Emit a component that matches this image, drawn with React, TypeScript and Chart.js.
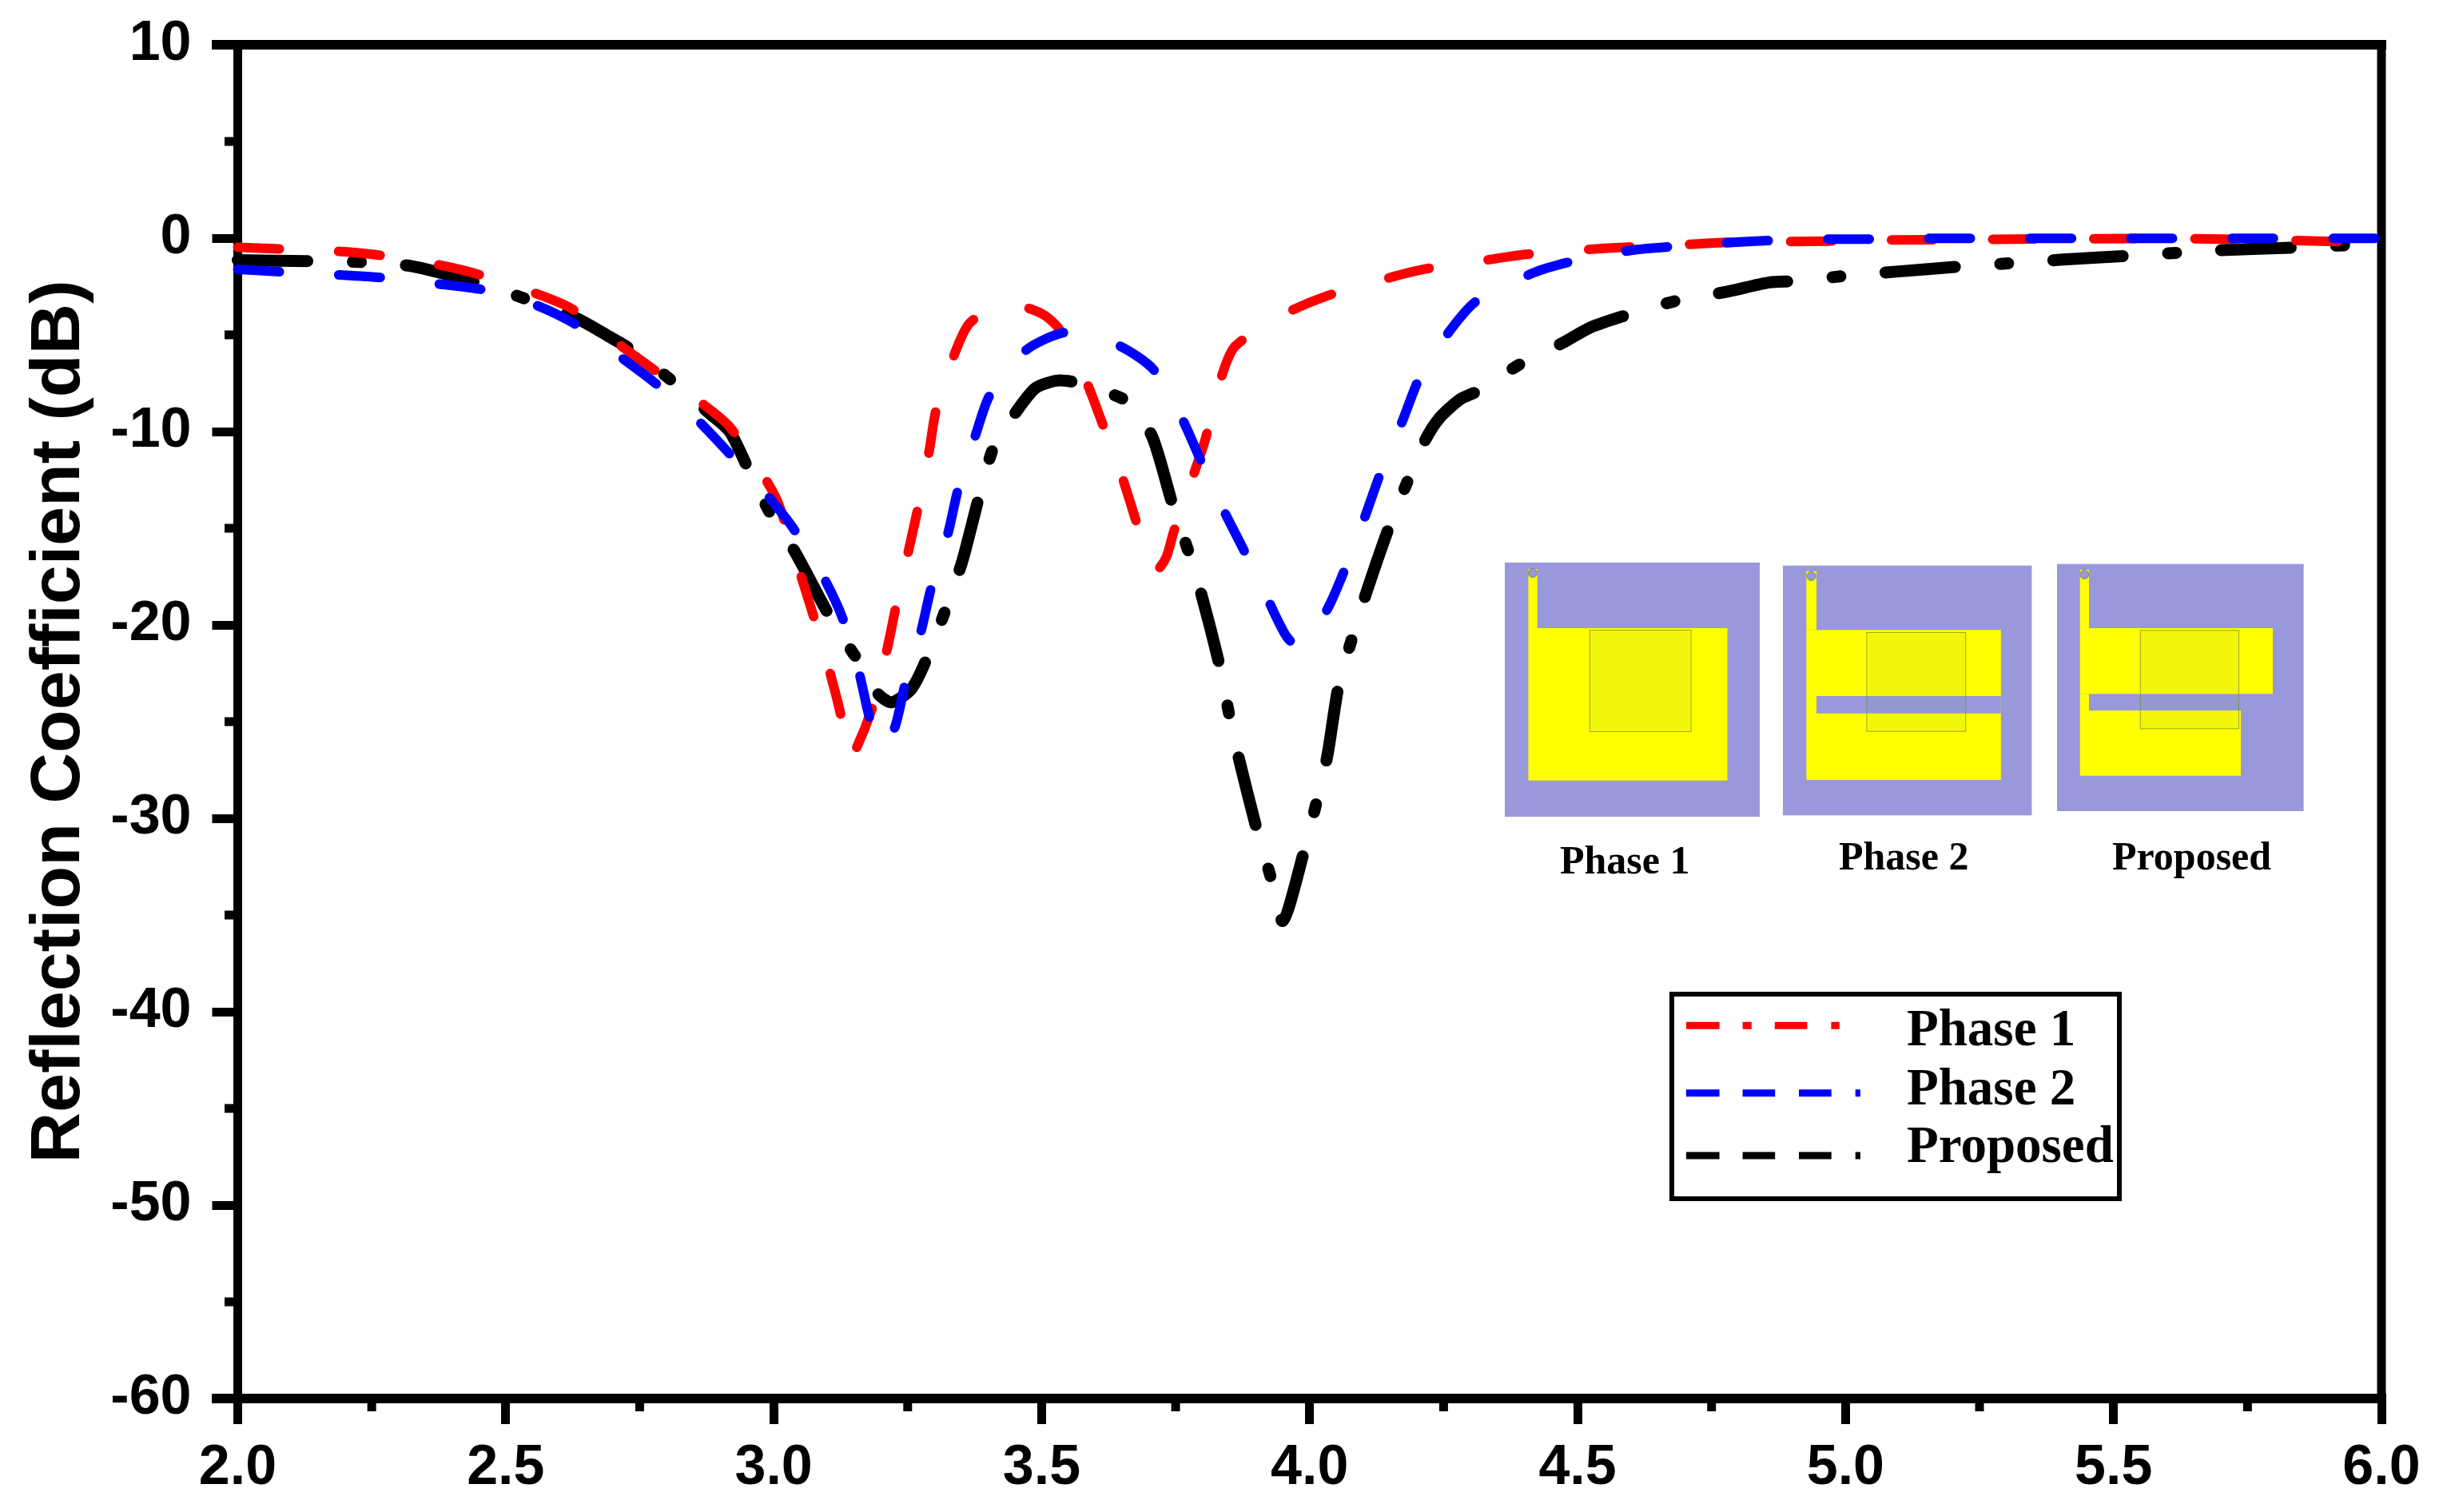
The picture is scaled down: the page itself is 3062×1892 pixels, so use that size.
import React, { useEffect, useRef } from "react";
import { Chart, registerables } from "chart.js";

Chart.register(...registerables);

const SANS = "'Liberation Sans', Arial, sans-serif";
const SERIF = "'Liberation Serif', 'Times New Roman', serif";

const xTickStep = 0.5;
const yTickStep = 10;
const minorX = [2.25, 2.75, 3.25, 3.75, 4.25, 4.75, 5.25, 5.75];
const minorY = [5, -5, -15, -25, -35, -45, -55];

const phase1X = [2.0, 2.078, 2.185, 2.266, 2.371, 2.451, 2.553, 2.622, 2.702, 2.773, 2.858, 2.917, 2.985, 3.01, 3.05, 3.075, 3.104, 3.125, 3.14, 3.155, 3.185, 3.211, 3.228, 3.251, 3.269, 3.29, 3.303, 3.335, 3.365, 3.42, 3.472, 3.506, 3.532, 3.583, 3.613, 3.65, 3.676, 3.703, 3.716, 3.733, 3.746, 3.78, 3.806, 3.833, 3.861, 3.957, 4.033, 4.139, 4.215, 4.323, 4.404, 4.512, 4.588, 4.702, 4.782, 4.889, 4.968, 5.071, 5.258, 5.448, 5.634, 5.825, 5.916, 6.0];
const phase1Y = [-0.47, -0.56, -0.68, -0.89, -1.36, -1.89, -2.83, -3.63, -5.3, -6.73, -8.38, -9.73, -12.47, -13.8, -17.38, -19.6, -22.36, -24.63, -26.9, -26.33, -24.2, -21.34, -19.07, -16.24, -13.98, -11.03, -8.88, -6.16, -4.41, -3.5, -3.6, -4.0, -4.68, -7.4, -9.56, -12.34, -14.61, -16.97, -17.15, -16.47, -15.22, -12.5, -10.35, -7.4, -5.59, -3.87, -2.98, -2.12, -1.6, -1.16, -0.84, -0.6, -0.47, -0.33, -0.22, -0.18, -0.15, -0.1, -0.06, -0.03, -0.03, -0.11, -0.18, -0.2];

const phase2X = [2.0, 2.082, 2.19, 2.272, 2.375, 2.456, 2.557, 2.626, 2.712, 2.776, 2.855, 2.911, 2.985, 3.037, 3.094, 3.13, 3.16, 3.179, 3.2, 3.226, 3.245, 3.275, 3.294, 3.325, 3.344, 3.376, 3.404, 3.472, 3.551, 3.643, 3.708, 3.761, 3.796, 3.84, 3.876, 3.923, 3.957, 3.985, 4.034, 4.067, 4.105, 4.133, 4.174, 4.204, 4.255, 4.31, 4.417, 4.493, 4.6, 4.68, 4.79, 4.873, 4.98, 5.064, 5.159, 5.254, 5.5, 5.75, 6.0];
const phase2Y = [-1.61, -1.74, -1.9, -2.05, -2.37, -2.66, -3.47, -4.39, -6.1, -7.43, -9.33, -10.95, -13.2, -15.02, -17.59, -19.75, -22.54, -24.81, -26.4, -25.3, -23.09, -20.32, -18.06, -15.29, -13.0, -10.24, -8.08, -5.77, -4.84, -5.54, -6.77, -9.28, -11.44, -14.09, -16.06, -18.74, -20.6, -21.2, -19.14, -17.04, -14.27, -12.09, -9.4, -7.29, -5.04, -3.28, -1.8, -1.18, -0.63, -0.43, -0.22, -0.11, -0.05, -0.05, -0.01, -0.01, -0.01, -0.01, -0.01];

const proposedX = [2.0, 2.143, 2.234, 2.325, 2.459, 2.532, 2.629, 2.69, 2.736, 2.8, 2.88, 2.918, 2.952, 2.993, 3.04, 3.104, 3.148, 3.16, 3.194, 3.22, 3.258, 3.29, 3.324, 3.352, 3.385, 3.412, 3.455, 3.489, 3.532, 3.583, 3.652, 3.665, 3.706, 3.744, 3.773, 3.799, 3.832, 3.849, 3.868, 3.902, 3.926, 3.95, 3.99, 4.013, 4.033, 4.054, 4.078, 4.105, 4.147, 4.181, 4.215, 4.242, 4.28, 4.312, 4.39, 4.474, 4.523, 4.596, 4.687, 4.778, 4.858, 4.905, 5.0, 5.09, 5.227, 5.311, 5.4, 5.539, 5.623, 5.71, 5.851, 5.937, 6.0];
const proposedY = [-1.14, -1.19, -1.24, -1.45, -2.4, -3.09, -4.1, -5.04, -5.8, -7.15, -9.05, -10.0, -11.9, -14.2, -16.24, -19.53, -21.45, -21.9, -23.54, -24.0, -23.27, -21.45, -18.96, -16.7, -13.18, -10.69, -8.88, -7.74, -7.36, -7.58, -8.31, -8.65, -10.24, -13.75, -16.13, -18.51, -22.1, -24.5, -26.9, -30.63, -32.9, -35.3, -31.66, -29.16, -26.78, -23.15, -20.8, -18.4, -15.03, -12.69, -10.48, -9.31, -8.35, -7.93, -6.56, -5.39, -4.63, -3.94, -3.22, -2.77, -2.29, -2.22, -1.95, -1.74, -1.44, -1.29, -1.12, -0.89, -0.75, -0.61, -0.47, -0.36, -0.3];

const toPoints = (xs: number[], ys: number[]) => xs.map((x, i) => ({ x, y: ys[i] }));

const seriesNames = ["Phase 1", "Phase 2", "Proposed"];
const insetNames = ["Phase 1", "Phase 2", "Proposed"];
const yTitle = "Reflection Coefficient (dB)";

const PLOT = { left: 297.5, right: 2980, top: 56, bottom: 1750 };
const VIOLET = "#9898da";
const YELLOW = "#ffff00";

function rect(c: CanvasRenderingContext2D, fill: string, x0: number, y0: number, x1: number, y1: number) {
  c.fillStyle = fill;
  c.fillRect(x0, y0, x1 - x0, y1 - y0);
}

function hole(c: CanvasRenderingContext2D, cx: number, cy: number) {
  c.fillStyle = VIOLET;
  c.strokeStyle = "#8a8a50";
  c.lineWidth = 1;
  c.beginPath();
  c.ellipse(cx, cy, 5.5, 5.5, 0, 0, Math.PI * 2);
  c.fill();
  c.stroke();
}

function overlay(c: CanvasRenderingContext2D, x0: number, y0: number, x1: number, y1: number) {
  c.fillStyle = "rgba(110,150,120,0.09)";
  c.fillRect(x0, y0, x1 - x0, y1 - y0);
  c.strokeStyle = "rgba(130,140,50,0.75)";
  c.lineWidth = 1;
  c.strokeRect(x0 + 0.5, y0 + 0.5, x1 - x0 - 1, y1 - y0 - 1);
}

const framePlugin = {
  id: "frame",
  beforeDatasetsDraw(chart: any) {
    const c: CanvasRenderingContext2D = chart.ctx;
    const sx = chart.scales.x;
    const sy = chart.scales.y;
    c.save();
    c.fillStyle = "#000";
    c.fillRect(265, PLOT.top - 6, 2986 - 265, 12);
    c.fillRect(265, PLOT.bottom - 6, 2986 - 265, 12);
    c.fillRect(PLOT.left - 5.5, PLOT.top, 11, PLOT.bottom - PLOT.top);
    c.fillRect(PLOT.right - 5.5, PLOT.top, 11, PLOT.bottom - PLOT.top);
    minorX.forEach((v) => c.fillRect(sx.getPixelForValue(v) - 5.5, PLOT.bottom, 11, 16));
    minorY.forEach((v) => c.fillRect(281, sy.getPixelForValue(v) - 5.5, 12, 11));
    c.restore();
  },
};

const annotationPlugin = {
  id: "annotations",
  afterDatasetsDraw(chart: any) {
    const c: CanvasRenderingContext2D = chart.ctx;
    c.save();

    // Phase 1 inset
    rect(c, VIOLET, 1883, 704, 2202, 1022);
    rect(c, YELLOW, 1912.4, 712, 1923.7, 786);
    rect(c, YELLOW, 1912.4, 786, 2161.5, 976.7);
    overlay(c, 1989, 788, 2116.6, 916);
    hole(c, 1918, 717);

    // Phase 2 inset
    rect(c, VIOLET, 2231, 707.7, 2542.4, 1020.3);
    rect(c, YELLOW, 2260.4, 715, 2273, 788.3);
    rect(c, YELLOW, 2260.4, 788.3, 2503.8, 976);
    rect(c, VIOLET, 2273, 871, 2503.8, 892.7);
    overlay(c, 2335.4, 791, 2460.3, 915.7);
    hole(c, 2266.7, 721);

    // Proposed inset
    rect(c, VIOLET, 2574, 705.7, 2882.6, 1015);
    rect(c, YELLOW, 2602.7, 713, 2614, 786);
    rect(c, YELLOW, 2602.7, 786, 2844, 868.3);
    rect(c, YELLOW, 2602.7, 868.3, 2614, 889);
    rect(c, YELLOW, 2602.7, 889, 2804, 970.7);
    overlay(c, 2677.8, 788.3, 2802, 912.3);
    hole(c, 2608.3, 719);

    // Inset captions
    c.fillStyle = "#000";
    c.textAlign = "left";
    c.textBaseline = "alphabetic";
    c.font = `bold 50px ${SERIF}`;
    c.fillText(insetNames[0], 1952, 1093);
    c.fillText(insetNames[1], 2301, 1088);
    c.fillText(insetNames[2], 2643, 1088);

    // Legend
    c.strokeStyle = "#000";
    c.lineWidth = 6;
    c.strokeRect(2092, 1244, 560, 256);
    const rows = [
      { y: 1283.3, base: 1308, color: "#ff0000", dash: [41.6, 29, 11.2, 29, 40.6, 30, 10.4, 1000], end: 2302 },
      { y: 1367.7, base: 1382, color: "#0000ff", dash: [41.6, 29, 40.6, 29.8, 40.7, 30, 6.2, 1000], end: 2328 },
      { y: 1446, base: 1454, color: "#000000", dash: [41.6, 29, 40.6, 29.8, 40.7, 30, 6.2, 1000], end: 2328 },
    ];
    rows.forEach((r, i) => {
      c.save();
      c.strokeStyle = r.color;
      c.lineWidth = 9;
      c.lineCap = "butt";
      c.setLineDash(r.dash);
      c.beginPath();
      c.moveTo(2110, r.y);
      c.lineTo(r.end, r.y);
      c.stroke();
      c.restore();
      c.fillStyle = "#000";
      c.font = `bold 65px ${SERIF}`;
      c.fillText(seriesNames[i], 2386, r.base);
    });
    c.restore();
  },
};

export default function App() {
  const ref = useRef<HTMLCanvasElement | null>(null);

  useEffect(() => {
    if (!ref.current) return;
    const chart = new Chart(ref.current, {
      type: "line",
      data: {
        datasets: [
          {
            label: seriesNames[0],
            data: toPoints(phase1X, phase1Y),
            borderColor: "#ff0000",
            borderWidth: 12,
            borderCapStyle: "round",
            borderJoinStyle: "round",
            borderDash: [52, 74.5],
            order: 1,
          },
          {
            label: seriesNames[1],
            data: toPoints(phase2X, phase2Y),
            borderColor: "#0000ff",
            borderWidth: 12,
            borderCapStyle: "round",
            borderJoinStyle: "round",
            borderDash: [52, 74.5],
            order: 0,
          },
          {
            label: seriesNames[2],
            data: toPoints(proposedX, proposedY),
            borderColor: "#000000",
            borderWidth: 15,
            borderCapStyle: "round",
            borderJoinStyle: "round",
            borderDash: [87, 57, 10, 56.5],
            order: 2,
          },
        ],
      },
      options: {
        animation: false,
        responsive: false,
        devicePixelRatio: 1,
        parsing: false,
        normalized: true,
        layout: { padding: { left: 0, top: PLOT.top, right: 3062 - PLOT.right, bottom: 0 } },
        elements: {
          point: { radius: 0 },
          line: { tension: 0.25, fill: false },
        },
        datasets: { line: { clip: false } },
        plugins: {
          legend: { display: false },
          tooltip: { enabled: false },
          title: { display: false },
        },
        scales: {
          x: {
            type: "linear",
            min: 2,
            max: 6,
            afterFit: (s: any) => {
              s.height = 1892 - PLOT.bottom;
              s.paddingLeft = 0;
              s.paddingRight = 0;
              s.paddingTop = 0;
              s.paddingBottom = 0;
            },
            border: { display: false },
            grid: {
              drawOnChartArea: false,
              drawTicks: true,
              tickLength: 32,
              tickWidth: 11,
              tickColor: "#000",
            },
            ticks: {
              stepSize: xTickStep,
              maxRotation: 0,
              autoSkip: false,
              padding: 14,
              color: "#000",
              font: { family: SANS, weight: "bold", size: 70 },
              callback: (v: any) => Number(v).toFixed(1),
            },
          },
          y: {
            type: "linear",
            min: -60,
            max: 10,
            afterFit: (s: any) => {
              s.width = PLOT.left;
              s.paddingLeft = 0;
              s.paddingRight = 0;
              s.paddingTop = 0;
              s.paddingBottom = 0;
            },
            border: { display: false },
            grid: {
              drawOnChartArea: false,
              drawTicks: true,
              tickLength: 32,
              tickWidth: 11,
              tickColor: "#000",
            },
            ticks: {
              stepSize: yTickStep,
              autoSkip: false,
              padding: 26,
              color: "#000",
              font: { family: SANS, weight: "bold", size: 70 },
              callback: (v: any) => String(v),
            },
            title: {
              display: true,
              text: yTitle,
              color: "#000",
              padding: { top: 22, bottom: 0 },
              font: { family: SANS, weight: "bold", size: 88 },
            },
          },
        },
      },
      plugins: [framePlugin, annotationPlugin],
    } as any);
    return () => chart.destroy();
  }, []);

  return (
    <canvas
      ref={ref}
      width={3062}
      height={1892}
      style={{ position: "absolute", left: 0, top: 0, display: "block", width: 3062, height: 1892 }}
    />
  );
}
